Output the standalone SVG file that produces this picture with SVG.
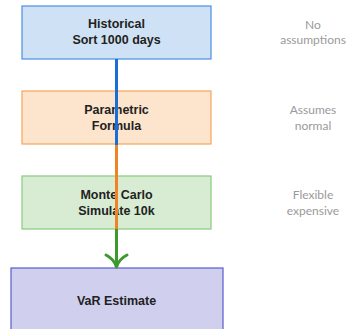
<svg xmlns="http://www.w3.org/2000/svg" width="352" height="329" viewBox="0 0 352 329">
<style>
.t{font-family:"Liberation Sans",Arial,sans-serif;font-weight:bold;font-size:12.5px;fill:#222;text-anchor:middle}
.n{font-family:Lato,"Liberation Sans",sans-serif;font-size:12px;fill:#9a9a9a;text-anchor:middle}
.e{fill:none;stroke-width:3}
</style>
<rect width="352" height="329" fill="#fff"/>
<g id="historical"><rect x="22" y="6" width="189" height="53" fill="#cfe2f5" stroke="#4a90e2" stroke-width="1.2"/><text class="t" x="116.5" y="28">Historical</text><text class="t" x="116.5" y="44">Sort 1000 days</text></g>
<g id="parametric"><rect x="22" y="91" width="189" height="53" fill="#fde4cc" stroke="#f5a55a" stroke-width="1.2"/><text class="t" x="116.5" y="114">Parametric</text><text class="t" x="116.5" y="130">Formula</text></g>
<g id="montecarlo"><rect x="22" y="176" width="189" height="53" fill="#d8ecd4" stroke="#86cc7c" stroke-width="1.2"/><text class="t" x="116.5" y="199">Monte Carlo</text><text class="t" x="116.5" y="215">Simulate 10k</text></g>
<g id="var"><rect x="11" y="268" width="212" height="70" fill="#d0d0ee" stroke="#5a5acc" stroke-width="1.2"/><text class="t" x="116.5" y="305">VaR Estimate</text></g>
<g id="notes"><text class="n" x="313" y="29">No</text><text class="n" x="313" y="44">assumptions</text><text class="n" x="313" y="114">Assumes</text><text class="n" x="313" y="130">normal</text><text class="n" x="313" y="199">Flexible</text><text class="n" x="313" y="215">expensive</text></g>
<g id="connectors">
<line class="e" x1="116.5" y1="59" x2="116.5" y2="266" stroke="#1a6fd6"/>
<line class="e" x1="116.5" y1="145" x2="116.5" y2="266" stroke="#f08424"/>
<line class="e" x1="116.5" y1="229" x2="116.5" y2="266" stroke="#3a9a2c"/>
<path class="e" d="M106,255 Q114,259 116.5,267 Q119,259 127,255" stroke="#3a9a2c" stroke-linecap="round" stroke-linejoin="round"/>
</g>
</svg>
